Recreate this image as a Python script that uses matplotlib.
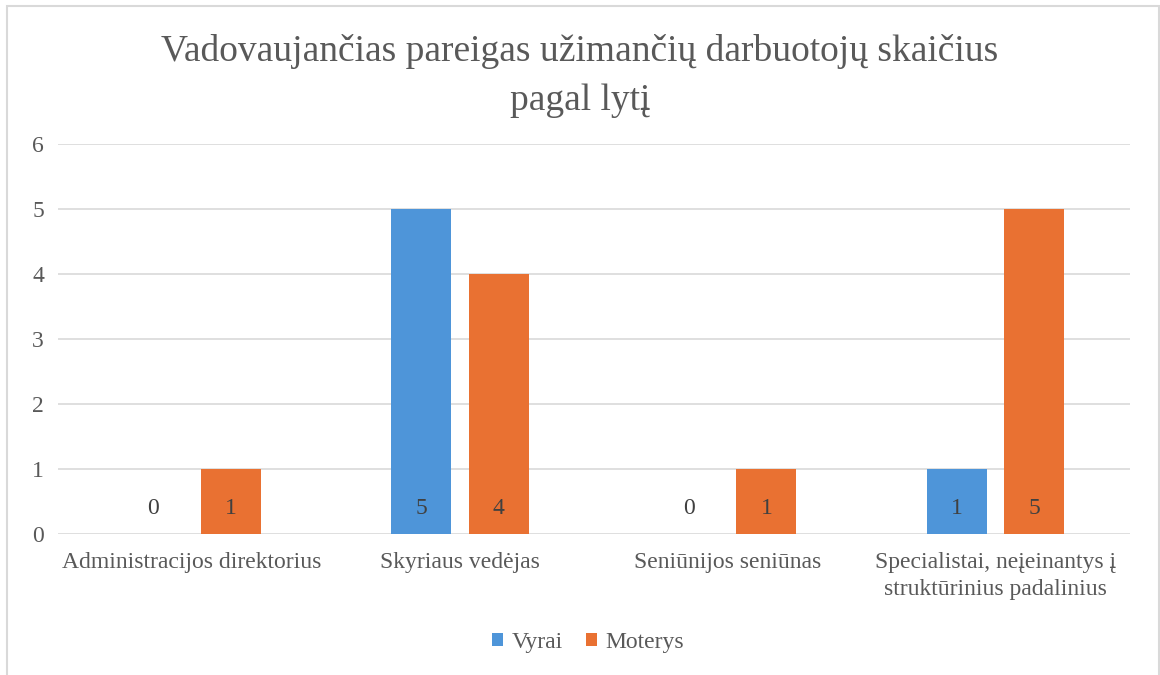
import numpy as np
import matplotlib
matplotlib.use("Agg")
import matplotlib.pyplot as plt
from matplotlib.patches import Rectangle

categories = ["Administracijos direktorius", "Skyriaus vedėjas", "Seniūnijos seniūnas",
              "Specialistai, neįeinantys į\nstruktūrinius padalinius"]
vyrai = [0, 5, 0, 1]
moterys = [1, 4, 1, 5]
series_names = ["Vyrai", "Moterys"]
title = "Vadovaujančias pareigas užimančių darbuotojų skaičius\npagal lytį"

text_color = "#595959"
plt.rcParams["font.family"] = ["Liberation Serif", "DejaVu Serif"]

fig = plt.figure(figsize=(11.6, 6.75), dpi=100)
ax = fig.add_axes([0.05, 0.2089, 0.924, 0.5778])

x = np.arange(len(categories))
width = 0.224
offset = 0.144
bars1 = ax.bar(x - offset, vyrai, width, color="#4E95D9", label=series_names[0], zorder=2)
bars2 = ax.bar(x + offset, moterys, width, color="#E97132", label=series_names[1], zorder=2)

# value labels sit just above the base of each bar
for bars in (bars1, bars2):
    for b in bars:
        ax.annotate(f"{int(b.get_height())}", (b.get_x() + b.get_width() / 2, 0),
                    xytext=(0, 15), textcoords="offset pixels", ha="center", va="bottom",
                    fontsize=17, color="#404040")

ax.set_ylim(0, 6)
ax.set_xlim(-0.5, len(categories) - 0.5)
ax.set_yticks(range(0, 7))
ax.set_xticks(x)
ax.set_xticklabels(categories, linespacing=1.4)
ax.grid(axis="y", color="#D9D9D9", linewidth=1.2, zorder=0)
ax.tick_params(axis="both", length=0, labelsize=17, colors=text_color)
ax.tick_params(axis="y", pad=10)
ax.tick_params(axis="x", pad=13)
for s in ax.spines.values():
    s.set_visible(False)

fig.text(0.5, 0.888, title, ha="center", va="center", fontsize=27, color=text_color,
         linespacing=1.55)

leg = fig.legend(loc="center", bbox_to_anchor=(0.507, 0.048), ncol=2, frameon=False,
                 fontsize=17, handlelength=0.45, handleheight=0.45, handletextpad=0.35,
                 columnspacing=1.0)
for t in leg.get_texts():
    t.set_color(text_color)

fig.patches.append(Rectangle((0.006, -0.01), 0.993, 1.001, transform=fig.transFigure,
                             fill=False, edgecolor="#D9D9D9", linewidth=1.5))

fig.savefig("out.png", dpi=100)
